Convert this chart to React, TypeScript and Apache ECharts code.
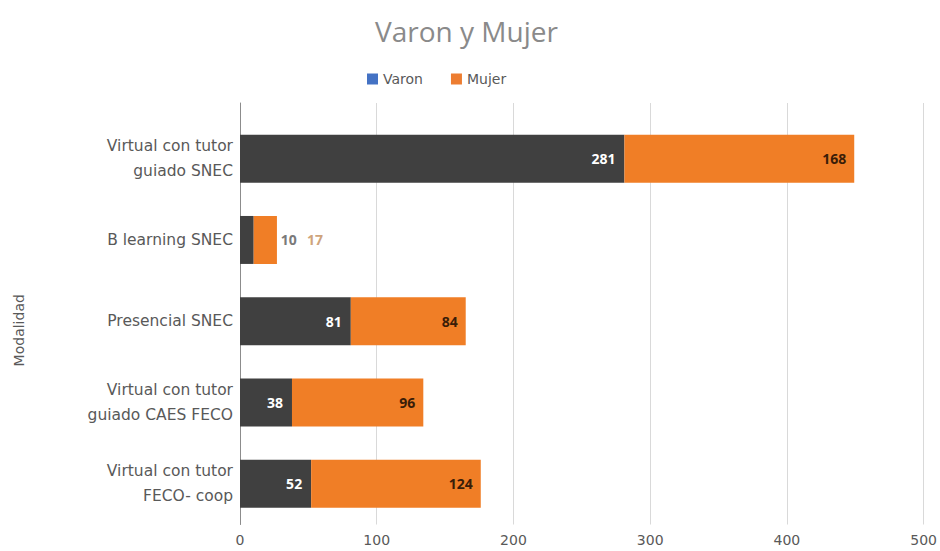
import React, { useEffect, useRef } from "react";
import * as echarts from "echarts";

const categories = [
  "Virtual con tutor\nguiado SNEC",
  "B learning SNEC",
  "Presencial SNEC",
  "Virtual con tutor\nguiado CAES FECO",
  "Virtual con tutor\nFECO- coop",
];
const varon = [281, 10, 81, 38, 52];
const mujer = [168, 17, 84, 96, 124];
const xTicks = [0, 100, 200, 300, 400, 500];

const FONT = "Open Sans";
const WIDE = "DejaVu Sans";

export default function App() {
  const ref = useRef<HTMLDivElement>(null);
  useEffect(() => {
    if (!ref.current) return;
    const chart = echarts.init(ref.current, undefined, { renderer: "svg" });
    const small = 1; // index of the narrow category whose labels sit outside
    const varonData = varon.map((v, i) =>
      i === small
        ? { value: v, label: { position: "right", distance: 27, color: "#7a7a7a" } }
        : v
    );
    const mujerData = mujer.map((v, i) =>
      i === small
        ? { value: v, label: { position: "right", distance: 30, color: "#cfa47c" } }
        : v
    );
    chart.setOption({
      animation: false,
      backgroundColor: "#ffffff",
      textStyle: { fontFamily: FONT },
      title: {
        text: "Varon y Mujer",
        left: 370,
        top: 12,
        textStyle: { fontSize: 28, fontWeight: "normal", color: "#8a8a8a", fontFamily: FONT },
      },
      legend: {
        top: 67,
        left: 362,
        itemWidth: 11,
        itemHeight: 11,
        itemGap: 28,
        icon: "rect",
        textStyle: { fontSize: 14, color: "#595959", fontFamily: WIDE },
        data: [
          { name: "Varon", itemStyle: { color: "#4472C4" } },
          { name: "Mujer", itemStyle: { color: "#ED7D31" } },
        ],
      },
      grid: [
        { left: 240, right: 16, top: 118, bottom: 26.5 },
        { left: 240, right: 16, top: 103, bottom: 26.5 },
      ],
      xAxis: [
        { type: "value", gridIndex: 0, min: 0, max: 500, interval: 100, show: false },
        {
          type: "value",
          gridIndex: 1,
          min: xTicks[0],
          max: xTicks[xTicks.length - 1],
          interval: 100,
          axisLine: { show: false },
          axisTick: { show: false },
          splitLine: { show: true, lineStyle: { color: "#d9d9d9", width: 1 } },
          axisLabel: { fontSize: 14, color: "#595959", margin: 8, fontFamily: WIDE },
        },
      ],
      yAxis: [
        {
          type: "category",
          gridIndex: 0,
          inverse: true,
          data: categories,
          axisLine: { show: false },
          axisTick: { show: false },
          axisLabel: {
            fontSize: 15.5,
            color: "#595959",
            margin: 7,
            lineHeight: 25,
            align: "right",
            fontFamily: WIDE,
          },
          name: "Modalidad",
          nameLocation: "middle",
          nameRotate: 90,
          nameGap: 214,
          nameTextStyle: { fontSize: 14, color: "#595959", fontFamily: WIDE, padding: [0, 18, 0, 0] },
        },
        {
          type: "value",
          gridIndex: 1,
          min: 0,
          max: 1,
          axisLine: { show: true, onZero: false, lineStyle: { color: "#8c8c8c", width: 1 } },
          axisTick: { show: false },
          axisLabel: { show: false },
          splitLine: { show: false },
        },
      ],
      series: [
        {
          name: "Varon",
          type: "bar",
          stack: "total",
          xAxisIndex: 0,
          yAxisIndex: 0,
          barCategoryGap: "41%",
          data: varonData,
          itemStyle: { color: "#404040" },
          label: {
            show: true,
            position: "insideRight",
            distance: 9,
            color: "#ffffff",
            fontWeight: "bold",
            fontSize: 14,
            fontFamily: FONT,
          },
        },
        {
          name: "Mujer",
          type: "bar",
          stack: "total",
          xAxisIndex: 0,
          yAxisIndex: 0,
          barCategoryGap: "41%",
          data: mujerData,
          itemStyle: { color: "#F07E26" },
          label: {
            show: true,
            position: "insideRight",
            distance: 8,
            color: "#3a1d08",
            fontWeight: "bold",
            fontSize: 14,
            fontFamily: FONT,
          },
        },
      ],
    });
    return () => chart.dispose();
  }, []);
  return (
    <div
      ref={ref}
      style={{ position: "fixed", left: 0, top: 0, width: 940, height: 551 }}
    />
  );
}
